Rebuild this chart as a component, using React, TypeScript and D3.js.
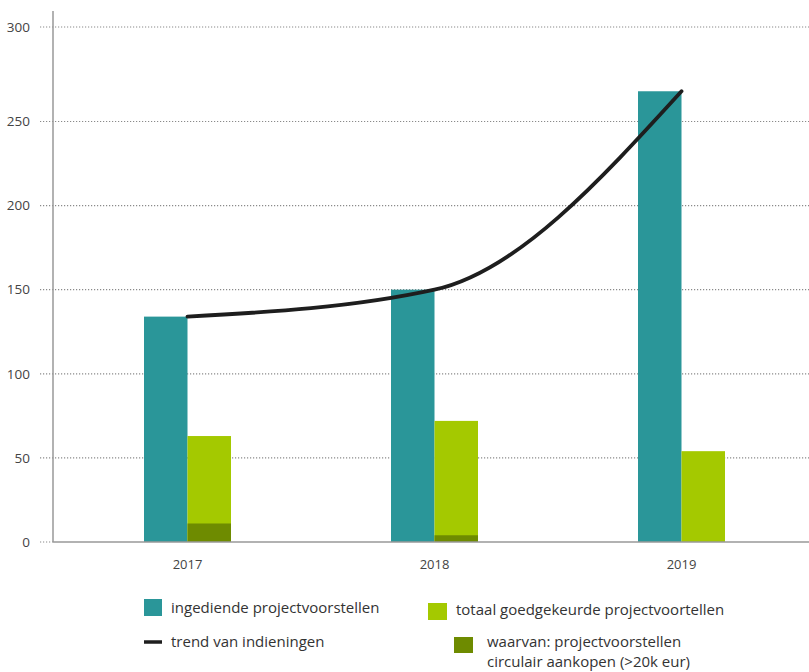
import React from "react";
import * as d3 from "d3";

const years = ["2017", "2018", "2019"];
const ingediend = [134, 150, 266];
const goedgekeurd = [63, 72, 54];
const circulair = [11, 4, 0];
const yTicks = [0, 50, 100, 150, 200, 250, 300];

const COLORS = { teal: "#2A9699", lime: "#A4C900", dark: "#6E8B00", line: "#1E1E1E" };
const FONT = "'Open Sans', 'Noto Sans', sans-serif";

export default function App() {
  const W = 809, H = 672;
  const y = d3.scaleLinear().domain([0, 250, 300]).range([542, 121.5, 27]);
  const x = d3.scaleBand().domain(years).range([64, 805]).padding(0);
  const barW = 43.5;
  const cx = (yr: string) => (x(yr) as number) + x.bandwidth() / 2;

  const pts: [number, number][] = years.map((yr, i) => [cx(yr), y(ingediend[i])]);
  const line = d3.line().curve(d3.curveMonotoneX)(pts) as string;

  return (
    <svg width={W} height={H} style={{ position: "absolute", left: 0, top: 0, background: "#fff" }} fontFamily={FONT}>
      {yTicks.map((t) => (
        <g key={t}>
          <line x1={40} x2={t === 0 ? 53 : W} y1={y(t)} y2={y(t)} stroke="#8a8a8a" strokeWidth={1.2} strokeDasharray="1.2,1.8" />
          <text x={30} y={y(t)} dy="0.35em" textAnchor="end" fontSize={13.5} fill="#444">{t}</text>
        </g>
      ))}
      {years.map((yr, i) => (
        <g key={yr}>
          <rect x={cx(yr) - barW} y={y(ingediend[i])} width={barW} height={y(0) - y(ingediend[i])} fill={COLORS.teal} />
          <rect x={cx(yr)} y={y(goedgekeurd[i])} width={barW} height={y(0) - y(goedgekeurd[i])} fill={COLORS.lime} />
          {circulair[i] > 0 && (
            <rect x={cx(yr)} y={y(circulair[i])} width={barW} height={y(0) - y(circulair[i])} fill={COLORS.dark} />
          )}
          <text x={cx(yr)} y={564} dy="0.35em" textAnchor="middle" fontSize={13} fill="#444">{yr}</text>
        </g>
      ))}
      <line x1={53} x2={53} y1={11} y2={y(0)} stroke="#999" strokeWidth={1.5} />
      <line x1={53} x2={W} y1={y(0)} y2={y(0)} stroke="#999" strokeWidth={1.5} />
      <path d={line} fill="none" stroke={COLORS.line} strokeWidth={3.8} strokeLinecap="round" />
      <g fontSize={15} fill="#333">
        <rect x={144} y={599} width={18} height={17} fill={COLORS.teal} />
        <text x={171} y={608} dy="0.35em">ingediende projectvoorstellen</text>
        <line x1={144} x2={162} y1={642} y2={642} stroke={COLORS.line} strokeWidth={3.5} />
        <text x={171} y={642} dy="0.35em">trend van indieningen</text>
        <rect x={428} y={603} width={19} height={17} fill={COLORS.lime} />
        <text x={456} y={610} dy="0.35em">totaal goedgekeurde projectvoortellen</text>
        <rect x={454} y={637} width={19} height={16} fill={COLORS.dark} />
        <text x={487} y={642} dy="0.35em">waarvan: projectvoorstellen</text>
        <text x={487} y={662} dy="0.35em">circulair aankopen (&gt;20k eur)</text>
      </g>
    </svg>
  );
}
